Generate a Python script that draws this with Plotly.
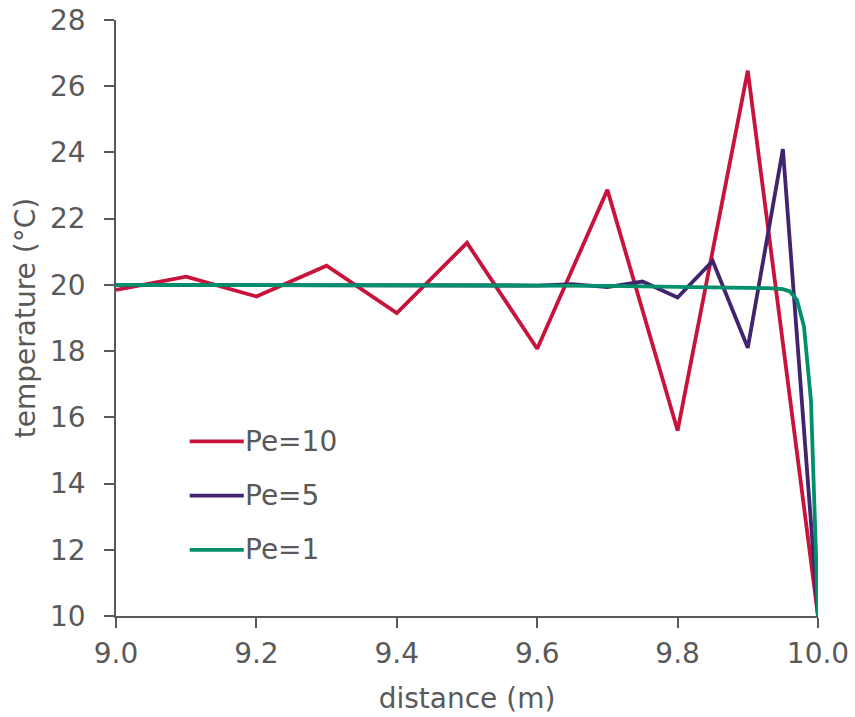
import plotly.graph_objects as go

# Temperature profiles near the outlet boundary for three Peclet numbers
x_pe10 = [9.0, 9.1, 9.2, 9.3, 9.4, 9.5, 9.6, 9.7, 9.8, 9.9, 10.0]
t_pe10 = [19.85, 20.25, 19.65, 20.58, 19.15, 21.27, 18.07, 22.87, 15.6, 26.47, 10.0]

x_pe5 = [9.0, 9.1, 9.2, 9.3, 9.4, 9.5, 9.55, 9.6, 9.65, 9.7, 9.75, 9.8, 9.85, 9.9, 9.95, 10.0]
t_pe5 = [20.0, 20.0, 20.0, 20.0, 20.0, 20.0, 19.99, 19.98, 20.02, 19.93, 20.1, 19.62, 20.72, 18.1, 24.1, 10.0]

x_pe1 = [9.0, 9.2, 9.4, 9.6, 9.7, 9.8, 9.9, 9.93, 9.95, 9.96, 9.97, 9.98, 9.99, 10.0]
t_pe1 = [20.0, 20.0, 20.0, 19.98, 19.97, 19.95, 19.92, 19.9, 19.87, 19.8, 19.55, 18.75, 16.5, 10.0]

series = [
    ("Pe=10", x_pe10, t_pe10, "#C8143B"),
    ("Pe=5", x_pe5, t_pe5, "#42246E"),
    ("Pe=1", x_pe1, t_pe1, "#00906B"),
]

x_ticks = [9.0, 9.2, 9.4, 9.6, 9.8, 10.0]
x_tick_text = ["9.0", "9.2", "9.4", "9.6", "9.8", "10.0"]
y_ticks = [10, 12, 14, 16, 18, 20, 22, 24, 26, 28]

axis_color = "#595959"
font_main = "DejaVu Sans"
fsize = 28
line_w = 3.8

fig = go.Figure()
for name, xs, ys, color in series:
    fig.add_trace(go.Scatter(x=xs, y=ys, mode="lines", name=name,
                             line=dict(color=color, width=line_w),
                             showlegend=False))

# Legend drawn in paper space: short line sample followed by label
legend_x0, legend_x1 = 0.105, 0.182
legend_y = [0.293, 0.202, 0.111]
for (name, _, _, color), ly in zip(series, legend_y):
    fig.add_shape(type="line", xref="paper", yref="paper",
                  x0=legend_x0, x1=legend_x1, y0=ly, y1=ly,
                  line=dict(color=color, width=line_w))
    fig.add_annotation(xref="paper", yref="paper", x=legend_x1 - 0.001, y=ly,
                       text=name, showarrow=False, xanchor="left", yanchor="middle",
                       font=dict(family=font_main, size=fsize, color=axis_color))

fig.update_layout(
    width=855, height=717,
    margin=dict(l=116, r=37, t=20, b=101),
    plot_bgcolor="white", paper_bgcolor="white",
    font=dict(family=font_main, color=axis_color, size=fsize),
    xaxis=dict(range=[9.0, 10.0], tickvals=x_ticks, ticktext=x_tick_text,
               automargin=False,
               showgrid=False, zeroline=False, showline=True,
               linecolor=axis_color, linewidth=1.5,
               ticks="outside", ticklen=10, tickwidth=1.5, tickcolor=axis_color,
               ticklabelstandoff=2,
               tickfont=dict(size=fsize, color=axis_color),
               title=dict(text="distance (m)", font=dict(size=fsize, color=axis_color),
                          standoff=19)),
    yaxis=dict(range=[10, 28], tickvals=y_ticks,
               automargin=False,
               showgrid=False, zeroline=False, showline=True,
               linecolor=axis_color, linewidth=1.5,
               ticks="outside", ticklen=10, tickwidth=1.5, tickcolor=axis_color,
               ticklabelstandoff=13,
               tickfont=dict(size=fsize, color=axis_color),
               title=dict(text="temperature (°C)", font=dict(size=fsize, color=axis_color),
                          standoff=6)),
)

fig.write_html("out.html")
